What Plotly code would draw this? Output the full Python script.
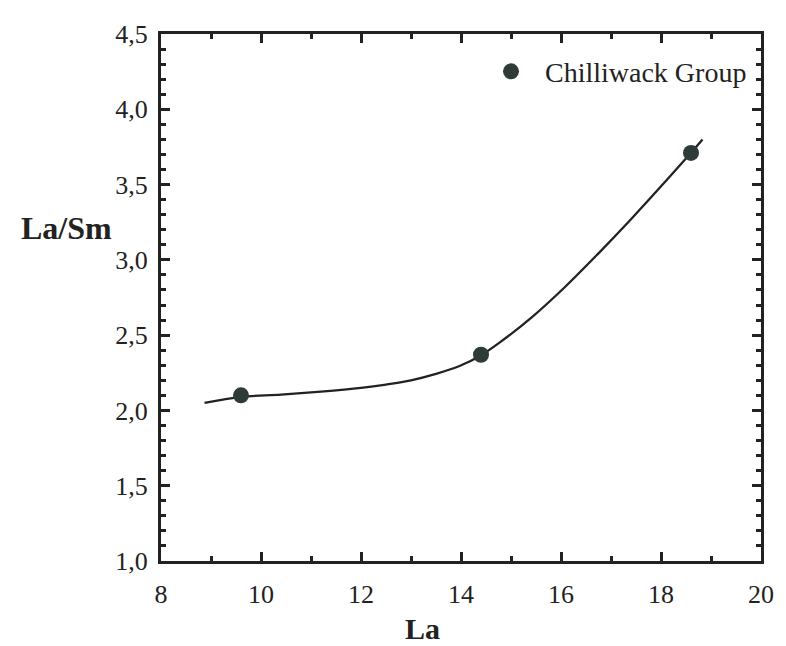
import plotly.graph_objects as go

# measured samples
sample_la = [9.6, 14.4, 18.6]
sample_ratio = [2.10, 2.37, 3.71]

# hand-drawn trend curve
curve_la = [8.87, 9.6, 10.4, 11.2, 12.0, 12.5, 13.0, 13.5, 13.97, 14.37, 14.77, 15.42, 16.08, 16.74, 17.40, 18.06, 18.57, 18.83]
curve_ratio = [2.05, 2.09, 2.105, 2.125, 2.15, 2.172, 2.20, 2.243, 2.295, 2.36, 2.45, 2.62, 2.82, 3.04, 3.27, 3.51, 3.70, 3.80]

ink = "#222"
serif = "Liberation Serif, DejaVu Serif, serif"

fig = go.Figure()

fig.add_trace(go.Scatter(
    x=curve_la, y=curve_ratio, mode="lines",
    line=dict(color=ink, width=2.3, shape="spline", smoothing=1.0),
    showlegend=False, hoverinfo="skip"
))

fig.add_trace(go.Scatter(
    x=sample_la, y=sample_ratio, mode="markers",
    name="\u00a0\u00a0Chilliwack Group",
    marker=dict(size=16, color="#2f3b38", line=dict(width=0)),
))

axis_common = dict(
    showgrid=False, zeroline=False,
    showline=True, linecolor=ink, linewidth=3, mirror="allticks",
    ticks="inside", ticklen=9, tickwidth=2.5, tickcolor=ink,
    tickfont=dict(family=serif, size=26, color=ink),
)

fig.update_xaxes(
    range=[8, 20], dtick=2, ticklabelstandoff=8,
    minor=dict(dtick=1, ticks="inside", ticklen=5, tickwidth=2.5, tickcolor=ink),
    **axis_common
)
fig.update_yaxes(
    range=[1, 4.5], dtick=0.5, tickformat=".1f", ticklabelstandoff=5,
    minor=dict(dtick=0.1, ticks="inside", ticklen=5, tickwidth=2.5, tickcolor=ink),
    **axis_common
)

fig.add_annotation(
    text="<b>La/Sm</b>", xref="paper", yref="paper", x=-0.236, y=0.632,
    xanchor="left", yanchor="middle", showarrow=False,
    font=dict(family=serif, size=32, color=ink)
)
fig.add_annotation(
    text="<b>La</b>", xref="paper", yref="paper", x=0.435, y=-0.128,
    xanchor="center", yanchor="middle", showarrow=False,
    font=dict(family=serif, size=30, color=ink)
)

# the page body has an 8px margin, so shrink the figure to fit the window
fig.update_layout(
    width=778, height=638,
    margin=dict(l=153, r=14, t=21, b=85),
    plot_bgcolor="white", paper_bgcolor="white",
    separators=", ",
    legend=dict(x=0.55, y=0.976, xanchor="left", yanchor="top",
                bgcolor="rgba(0,0,0,0)", itemwidth=30,
                font=dict(family=serif, size=28, color=ink)),
)

fig.write_html("out.html")
